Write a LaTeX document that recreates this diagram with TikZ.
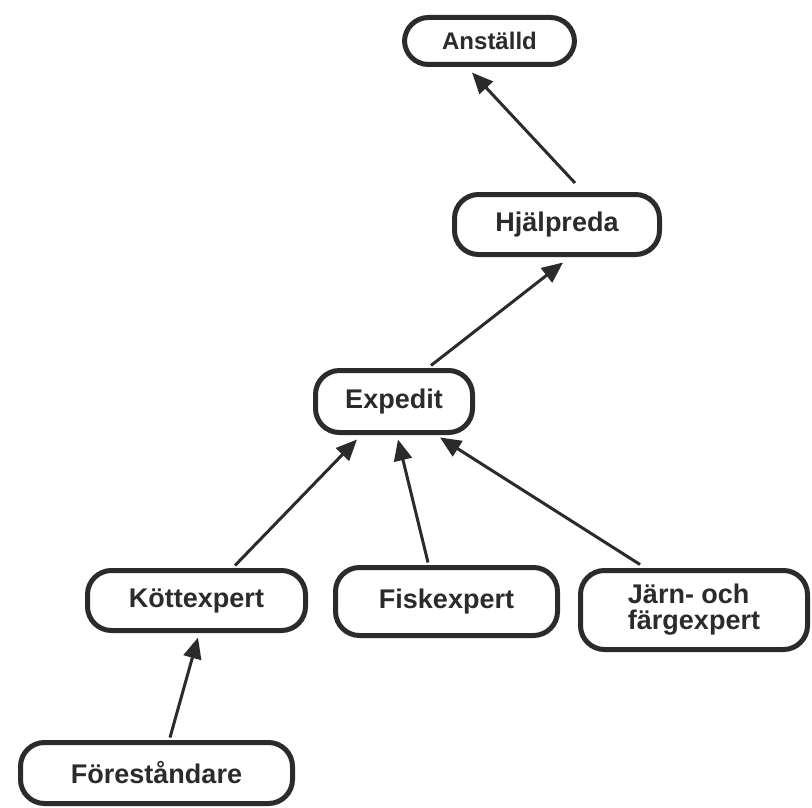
\documentclass[tikz,border=0pt]{standalone}
\usepackage{fontspec}
\setmainfont{Liberation Sans}
\usetikzlibrary{arrows.meta}
\definecolor{ink}{HTML}{2B2B2B}
\tikzset{
  role/.style={draw=ink, line width=5pt, rounded corners=24pt, fill=white,
    inner sep=0pt, font=\fontsize{27}{27}\selectfont\bfseries, text=ink},
  isa/.style={draw=ink, line width=3pt, -{Triangle[length=21pt,width=18pt]}},
}
\begin{document}
\begin{tikzpicture}[x=1pt,y=-1pt]
\useasboundingbox (0,0) rectangle (812,808);
% role boxes
\node[role, minimum width=170pt, minimum height=47pt,
  font=\fontsize{24}{24}\selectfont\bfseries] (an) at (489.5,41) {Anställd};
\node[role, minimum width=205pt, minimum height=60pt] (hj) at (557,224.5) {Hjälpreda};
\node[role, minimum width=157pt, minimum height=62pt] (ex) at (394,401.5) {Expedit};
\node[role, minimum width=218pt, minimum height=60pt] (ko) at (196.5,600.5) {Köttexpert};
\node[role, minimum width=222pt, minimum height=68pt] (fi) at (446.5,601.5) {Fiskexpert};
\node[role, minimum width=227pt, minimum height=79pt, align=left,
  font=\fontsize{27}{26}\selectfont\bfseries] (ja) at (694,610) {Järn- och\\färgexpert};
\node[role, minimum width=272pt, minimum height=61pt] (fo) at (156.5,773) {Föreståndare};
% specialisation links
\draw[isa] ([xshift=18pt,yshift=9pt]hj.north) -- ([xshift=-17.5pt,yshift=-5.5pt]an.south);
\draw[isa] ([xshift=37pt,yshift=2.5pt]ex.north) -- ([xshift=6pt,yshift=-5.5pt]hj.south);
\draw[isa] ([xshift=38.5pt,yshift=2.5pt]ko.north) -- ([xshift=-37pt,yshift=-4.5pt]ex.south);
\draw[isa] ([xshift=-18.5pt,yshift=2.5pt]fi.north) -- ([xshift=4pt,yshift=-4.5pt]ex.south);
\draw[isa] ([xshift=-54pt,yshift=3.5pt]ja.north) -- ([xshift=46pt,yshift=-2.5pt]ex.south);
\draw[isa] ([xshift=13.5pt,yshift=2.5pt]fo.north) -- ([xshift=1.5pt,yshift=-4.5pt]ko.south);
\end{tikzpicture}
\end{document}
